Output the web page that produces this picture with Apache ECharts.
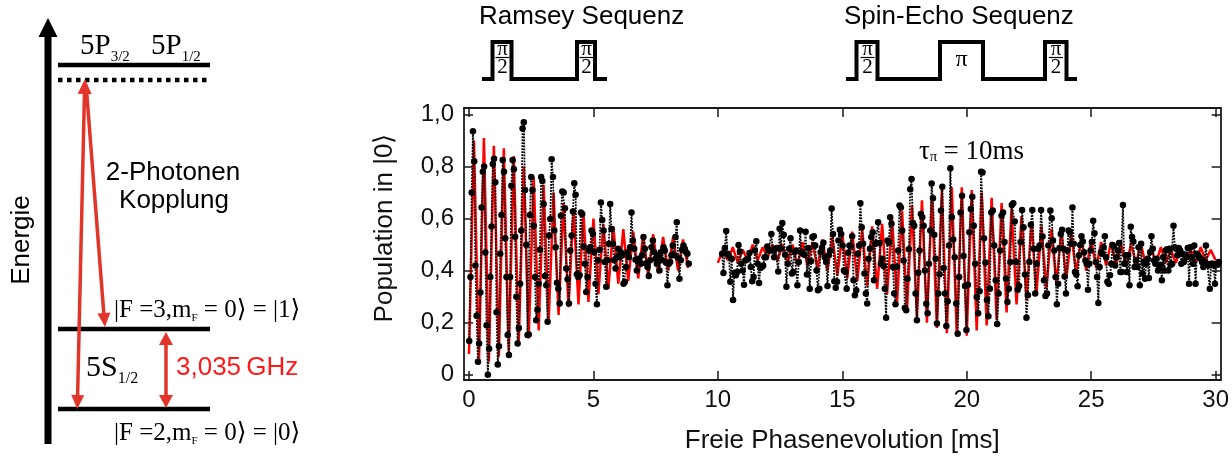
<!DOCTYPE html>
<html><head><meta charset="utf-8">
<script src="https://cdn.jsdelivr.net/npm/echarts@6/dist/echarts.min.js"></script>
<style>html,body{margin:0;padding:0;background:#fff}#c{width:1232px;height:459px}</style>
</head><body><div id="c"></div>
<script>
// ---- measured data (population in |0>) ----
const ramseyP = [
0.13,0.376,0.70,0.936,0.82,0.42,0.227,0.05,0.12,0.316,
0.643,0.78,0.80,0.47,0.19,0.0,0.10,0.376,0.57,0.81,
0.83,0.74,0.24,0.04,0.11,0.465,0.614,0.825,0.78,0.525,
0.376,0.153,0.076,0.376,0.726,0.825,0.79,0.53,0.30,0.12,
0.18,0.35,0.554,0.946,0.97,0.71,0.50,0.153,0.155,0.614,
0.76,0.71,0.573,0.376,0.21,0.25,0.35,0.48,0.76,0.745,
0.656,
0.38,0.344,0.204,0.535,0.599,0.828,0.76,0.554,0.49,
0.354,0.331,0.274,0.611,0.704,0.70,0.64,0.408,0.367,0.274,
0.478,0.535,0.627,0.736,0.692,0.386,0.376,0.382,0.624,0.618,
0.493,0.427,0.318,0.376,0.478,0.49,0.554,0.541,0.471,0.35,
0.271,0.44,0.48,0.662,0.595,0.554,0.433,0.338,0.44,0.503,
0.656,0.56,0.503,0.44,0.408,0.452,0.484,0.452,0.471,0.459,
0.35,0.357,0.414,0.471,0.452,0.49,0.624,0.516,0.484,0.442,
0.401,0.446,0.436,0.427,0.459,0.529,0.484,0.429,0.414,0.38,
0.44,0.49,0.516,0.471,0.446,0.427,0.459,0.401,0.471,0.44,
0.49,0.478,0.43,0.344,0.427,0.433,0.459,0.497,0.459,0.529,
0.586,0.45,0.369,0.44,0.48,0.497,0.484,0.471,0.465,0.427];
// [sample index, time in ms]
const ramseyAnchors = [[0, 0.01], [60, 3.0], [169, 8.83]];

const echoA = [
0.465,0.391,0.487,0.552,0.465,0.456,0.357,0.446,0.287,0.392,
0.382,0.395,0.499,0.474,0.427,0.401,0.346,0.439,0.443,0.446,
0.468,0.414,0.359,0.376,0.478,0.513,0.427,0.353,0.41,0.414,
0.42,0.452,0.452,0.493,0.478,0.478,0.541,0.478,0.452,0.484,
0.487,0.397,0.561,0.484,0.583,0.538,0.461,0.338,0.427,0.484,
0.525,0.389,0.395,0.471,0.478,0.344,0.433,0.554,0.471,0.465,
0.461,0.55,0.385,0.487,0.331,0.436,0.529,0.532,0.497,0.401,
0.325,0.331,0.471,0.488,0.507,0.452,0.433,0.341,0.459,0.478,
0.639,0.541,0.359,0.334,0.357,0.516,0.557,0.541,0.497,0.401,
0.395,0.331,0.469,0.497,0.494,0.532,0.363,0.306,0.325,0.465,
0.497,0.659,0.567,0.503,0.389,0.312,0.274,0.446,0.484,0.529,
0.548,0.363,0.503,0.506,0.586,0.506,0.427];
const echoAAnchors = [[0, 10.17], [116, 16.55]];

const echoB = [
0.446,0.418,0.331,0.219,0.516,0.507,0.605,0.58,0.414,0.312,
0.271,0.414,0.478,0.65,0.643,0.554,0.439,0.257,0.248,0.369,
0.482,0.713,0.752,0.583,0.573,0.312,0.21,0.392,0.478,0.618,
0.605,0.573,0.401,0.273,0.236,0.427,0.554,0.735,0.678,0.538,
0.446,0.197,0.312,0.386,0.631,0.722,0.41,0.312,0.187,0.283,
0.497,0.794,0.605,0.52,0.452,0.274,0.158,0.376,0.624,0.688,
0.456,0.341,0.172,0.346,0.548,0.637,0.684,0.573,0.427,0.299,
0.236,0.321,0.78,0.777,0.525,0.431,0.287,0.225,0.331,0.624,
0.631,0.497,0.363,0.195,0.312,0.478,0.611,0.624,0.51,0.369,
0.28,0.331,0.433,0.652,0.659,0.589,0.433,0.327,0.341,0.51,
0.633,0.567,0.385,0.219,0.306,0.433,0.576,0.633,0.484,0.312,
0.427,0.484,0.497,0.633,0.531,0.363,0.303,0.312,0.497];
const echoBAnchors = [[0, 16.6], [51, 19.34], [118, 23.28]];

const echoC = [
0.631,0.601,0.516,0.478,0.376,0.271,0.35,0.487,0.541,0.557,
0.484,0.378,0.312,0.478,0.554,0.548,0.503,0.643,0.503,0.395,
0.385,0.34,0.459,0.499,0.532,0.512,0.471,0.439,0.427,0.327,
0.427,0.478,0.51,0.592,0.544,0.433,0.376,0.276,0.414,0.471,
0.465,0.49,0.532,0.452,0.357,0.35,0.382,0.427,0.499,0.493,
0.42,0.452,0.478,0.506,0.395,0.395,0.652,0.427,0.459,0.395,
0.459,0.344,0.569,0.529,0.512,0.414,0.439,0.414,0.49,0.344,
0.503,0.389,0.433,0.369,0.427,0.446,0.372,0.471,0.532,0.484,
0.439,0.427,0.446,0.401,0.41,0.423,0.363,0.452,0.401,0.478,
0.482,0.401,0.484,0.423,0.427,0.573,0.49,0.484,0.459,0.487,
0.478,0.427,0.465,0.433,0.459,0.452,0.487,0.35,0.49,0.452,
0.427,0.497,0.35,0.465,0.459,0.452,0.446,0.433,0.414,0.433,
0.497,0.427,0.42,0.331,0.427,0.427,0.42,0.35,0.427,0.423,
0.433];
const echoCAnchors = [[0, 23.36], [130, 30.13]];

// ---- theory curve (red), sampled at its turning points ----
const fitRamsey = [
0.08,0.90,0.04,0.91,0.05,0.88,0.07,0.87,0.09,0.84,
0.12,0.80,0.14,0.76,0.17,0.73,0.20,0.70,0.23,0.66,
0.26,0.64,0.27,0.62,0.28,0.60,0.31,0.58,0.33,0.57,
0.35,0.56,0.36,0.55,0.37,0.54,0.38,0.54,0.39,0.53,
0.40,0.53,0.40,0.52,0.41];
const fitRamseyStart = 0;
const fitEcho = [
0.43,0.48,0.44,0.49,0.43,0.48,0.44,0.50,0.44,0.49,
0.45,0.50,0.44,0.50,0.43,0.50,0.42,0.51,0.42,0.51,
0.41,0.52,0.40,0.53,0.38,0.54,0.37,0.55,0.36,0.56,
0.34,0.57,0.33,0.58,0.31,0.60,0.28,0.63,0.25,0.65,
0.22,0.67,0.20,0.69,0.18,0.71,0.16,0.72,0.15,0.72,
0.15,0.71,0.17,0.70,0.19,0.68,0.21,0.66,0.24,0.64,
0.27,0.61,0.29,0.59,0.31,0.57,0.33,0.56,0.35,0.55,
0.37,0.54,0.39,0.53,0.40,0.52,0.41,0.51,0.42,0.51,
0.42,0.50,0.42,0.50,0.43,0.50,0.42,0.49,0.43,0.49,
0.43,0.48,0.43,0.49,0.44,0.48,0.43,0.49,0.44,0.48,
0.44];
const fitEchoStart = 10.0;
const fitHalfPeriod = 0.2;

const xTicks = [0,5,10,15,20,25,30];
const yTicks = [0,0.2,0.4,0.6,0.8,1.0];
const yTickLabels = ['0','0,2','0,4','0,6','0,8','1,0'];

// ---- helpers ----
function anchored(vals, anchors){
  return vals.map((v,i)=>{
    let k=0; while(k<anchors.length-2 && i>anchors[k+1][0]) k++;
    const a=anchors[k], b=anchors[k+1];
    return [a[1] + (i-a[0])*(b[1]-a[1])/(b[0]-a[0]), v];
  });
}
function sampled(vals, start, step){ return vals.map((v,i)=>[start+i*step, v]); }

const SANS = '"Liberation Sans", Arial, Helvetica, sans-serif';
const SERIF = '"Liberation Serif", "Times New Roman", "DejaVu Serif", serif';
const mctx = document.createElement('canvas').getContext('2d');
function tw(t, size, fam){ mctx.font = size+'px '+fam; return mctx.measureText(t).width; }
function txt(x, y, t, size, fam, opt){
  opt = opt||{};
  return {type:'text', x:x, y:y, rotation:opt.rot||0, z:10,
    style:{text:t, font:'normal '+size+'px '+fam, fill:opt.fill||'#000',
      textAlign:opt.align||'left', textVerticalAlign:'middle'}};
}
function row(x, y, parts){
  const out=[]; let cx=x;
  parts.forEach(p=>{ out.push(txt(cx, y+(p.dy||0), p.t, p.s, p.f||SERIF, {fill:p.c})); cx += tw(p.t, p.s, p.f||SERIF) + (p.gap||0); });
  return out;
}
function head(tx, ty, fx, fy, len, hw, color){
  const dx=tx-fx, dy=ty-fy, L=Math.hypot(dx,dy), ux=dx/L, uy=dy/L;
  const bx=tx-ux*len, by=ty-uy*len, nx=-uy, ny=ux;
  return {type:'polygon', z:10, shape:{points:[[tx,ty],[bx+nx*hw,by+ny*hw],[bx-nx*hw,by-ny*hw]]}, style:{fill:color}};
}
function seg(x1,y1,x2,y2,w,color,dash){
  return {type:'line', z:10, shape:{x1:x1,y1:y1,x2:x2,y2:y2}, style:{stroke:color, lineWidth:w, lineDash:dash||null}};
}
function poly(pts, w){ return {type:'polyline', z:10, shape:{points:pts}, style:{stroke:'#000', lineWidth:w, fill:null}}; }
function frac(cx){
  return [txt(cx, 49, 'π', 21, SERIF, {align:'center'}), seg(cx-7, 57.5, cx+7, 57.5, 1.2, '#000'), txt(cx, 67.5, '2', 21, SERIF, {align:'center'})];
}

const RED = '#e2352a';
const g = [];
// energy axis arrow
g.push({type:'rect', z:10, shape:{x:44.5, y:34, width:7, height:410}, style:{fill:'#000'}});
g.push({type:'polygon', z:10, shape:{points:[[48,18],[38.5,37],[57.5,37]]}, style:{fill:'#000'}});
g.push(txt(22, 240, 'Energie', 26, SANS, {rot:Math.PI/2, align:'center'}));
// levels
g.push(seg(58, 65, 210, 65, 4.5, '#000'));
g.push(seg(58, 80, 210, 80, 4.5, '#000', [4.5, 4.5]));
g.push(seg(58, 329, 210, 329, 4.5, '#000'));
g.push(seg(58, 409, 210, 409, 4.5, '#000'));
// level labels
g.push(...row(80, 46, [{t:'5P', s:29}, {t:'3/2', s:15, dy:11}]));
g.push(...row(151, 46, [{t:'5P', s:29}, {t:'1/2', s:15, dy:11}]));
g.push(...row(86, 368, [{t:'5S', s:30}, {t:'1/2', s:16, dy:11}]));
g.push(...row(114, 310, [{t:'|F =3,m', s:25}, {t:'F', s:11, dy:8}, {t:' = 0⟩ = |1⟩', s:25}]));
g.push(...row(114, 433, [{t:'|F =2,m', s:25}, {t:'F', s:11, dy:8}, {t:' = 0⟩ = |0⟩', s:25}]));
// red two-photon arrows
g.push(seg(84.5, 92, 77.6, 396, 3.5, RED));
g.push(seg(86.5, 90, 104, 316, 3.5, RED));
g.push(head(85, 79, 84.6, 96, 15, 7, RED));
g.push(head(77.3, 409, 77.7, 394, 14, 6.5, RED));
g.push(head(105, 327, 103.9, 313, 14, 6.5, RED));
g.push(seg(166, 343, 166, 397, 3.5, RED));
g.push(head(166, 332, 166, 346, 13, 7, RED));
g.push(head(166, 408, 166, 394, 13, 7, RED));
g.push(txt(173, 173, '2-Photonen', 26, SANS, {align:'center'}));
g.push(txt(174, 201, 'Kopplung', 26, SANS, {align:'center'}));
g.push(txt(176, 368, '3,035\u2009GHz', 26, SANS, {fill:'#ff1a1a'}));
// pulse sequences
g.push(txt(479, 17, 'Ramsey Sequenz', 26, SANS));
g.push(txt(844, 17, 'Spin-Echo Sequenz', 26, SANS));
g.push(poly([[482,79],[492.5,79],[492.5,42],[511.5,42],[511.5,79],[577,79],[577,42],[595,42],[595,79],[607,79]], 4));
g.push(poly([[846,79],[856.5,79],[856.5,42],[877.5,42],[877.5,79],[940,79],[940,42],[983,42],[983,79],[1045,79],[1045,42],[1066.5,42],[1066.5,79],[1077,79]], 4));
g.push(...frac(502.5), ...frac(586.5), ...frac(867.5), ...frac(1056));
g.push(txt(961.5, 60, 'π', 24, SERIF, {align:'center'}));
// tau annotation
g.push(...row(919, 152, [{t:'τ', s:27}, {t:'π', s:15, dy:5, gap:6}, {t:'= 10ms', s:27}]));

const chart = echarts.init(document.getElementById('c'), null, {renderer:'canvas'});
const axisCol = '#1a1a1a';
const xBase = {type:'value', min:-0.2, max:30.2, splitLine:{show:false}, gridIndex:0,
  axisLine:{show:true, onZero:false, lineStyle:{color:axisCol, width:1.8}},
  axisTick:{show:true, inside:true, length:9, customValues:xTicks, lineStyle:{color:axisCol, width:1.5}}};
const yBase = {type:'value', min:-0.02, max:1.025, splitLine:{show:false}, gridIndex:0,
  axisLine:{show:true, onZero:false, lineStyle:{color:axisCol, width:1.8}},
  axisTick:{show:true, inside:true, length:9, customValues:yTicks, lineStyle:{color:axisCol, width:1.5}}};
const dataLine = {color:'#000', width:1.8, type:[1.8,1.2]};

chart.setOption({
  animation:false,
  backgroundColor:'#fff',
  grid:{left:464, right:9, top:108, bottom:77, containLabel:false},
  xAxis:[
    Object.assign({}, xBase, {position:'bottom',
      axisLabel:{show:true, customValues:xTicks, fontSize:24, fontFamily:SANS, color:'#111', margin:8, formatter:v=>String(v)},
      name:'Freie Phasenevolution [ms]', nameLocation:'middle', nameGap:48,
      nameTextStyle:{fontSize:26, fontFamily:SANS, color:'#111'}}),
    Object.assign({}, xBase, {position:'top', axisLabel:{show:false}})
  ],
  yAxis:[
    Object.assign({}, yBase, {position:'left',
      axisLabel:{show:true, customValues:yTicks, fontSize:24, fontFamily:SANS, color:'#111', margin:10,
        formatter:v=>{ const i=yTicks.findIndex(t=>Math.abs(t-v)<1e-6); return i>=0?yTickLabels[i]:''; }},
      name:'Population in |0⟩', nameLocation:'middle', nameGap:66,
      nameTextStyle:{fontSize:26, fontFamily:SANS, color:'#111', padding:[0,0,0,32]}}),
    Object.assign({}, yBase, {position:'right', axisLabel:{show:false}})
  ],
  series:[
    {type:'line', xAxisIndex:0, yAxisIndex:0, data:sampled(fitRamsey, fitRamseyStart, fitHalfPeriod), symbol:'none', z:1,
      lineStyle:{color:'#ff0000', width:2.5}},
    {type:'line', xAxisIndex:0, yAxisIndex:0, data:sampled(fitEcho, fitEchoStart, fitHalfPeriod), symbol:'none', z:1,
      lineStyle:{color:'#ff0000', width:2.5}},
    {type:'line', xAxisIndex:0, yAxisIndex:0, data:anchored(ramseyP, ramseyAnchors), symbol:'circle', symbolSize:6.5, z:3,
      itemStyle:{color:'#000'}, lineStyle:dataLine},
    {type:'line', xAxisIndex:0, yAxisIndex:0,
      data:anchored(echoA, echoAAnchors).concat(anchored(echoB, echoBAnchors), anchored(echoC, echoCAnchors)),
      symbol:'circle', symbolSize:6.5, z:3,
      itemStyle:{color:'#000'}, lineStyle:dataLine}
  ],
  graphic:{elements:g}
});
</script></body></html>
